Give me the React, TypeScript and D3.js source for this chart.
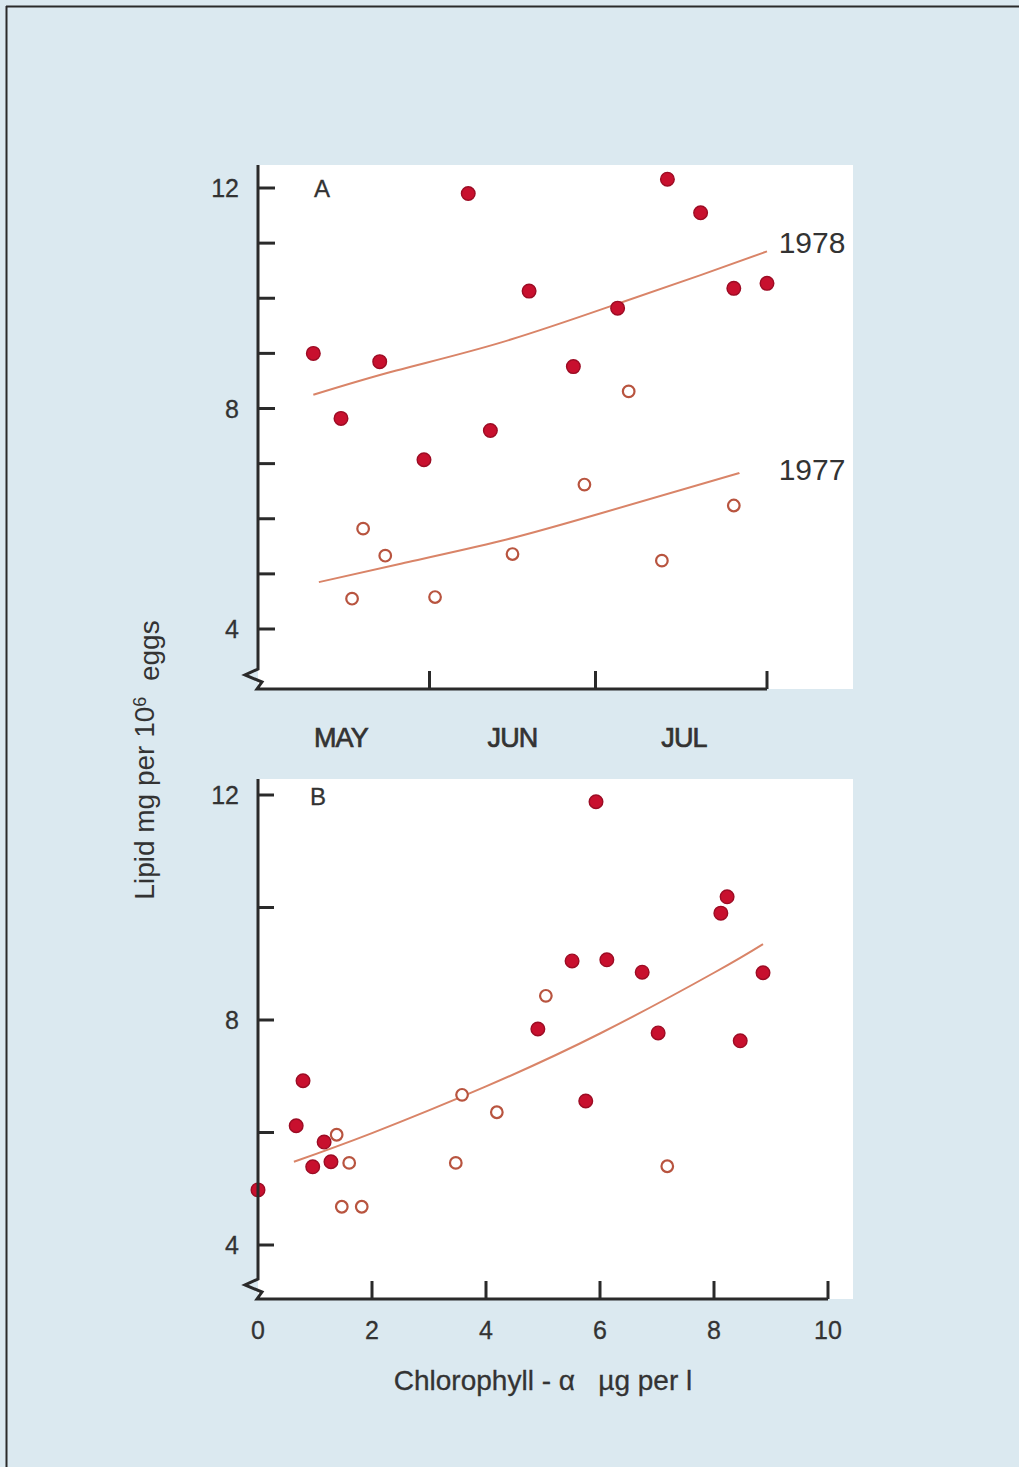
import React from "react";
import * as d3 from "d3";

// ---------- Data ----------
const monthLabels = ["MAY", "JUN", "JUL"];
const monthMidDates = ["05-16", "06-16", "07-17"];
const monthTickDates = ["06-01", "07-01", "08-01"];

// Panel A: lipid vs date
const dates1978 = ["05-11", "05-16", "05-23", "05-31", "06-08", "06-12", "06-19", "06-27", "07-05", "07-14", "07-20", "07-26", "08-01"];
const lipid1978 = [9.0, 7.82, 8.85, 7.07, 11.9, 7.6, 10.13, 8.76, 9.82, 12.16, 11.55, 10.18, 10.27];
const dates1977 = ["05-18", "05-20", "05-24", "06-02", "06-16", "06-29", "07-07", "07-13", "07-26"];
const lipid1977 = [4.55, 5.82, 5.33, 4.58, 5.36, 6.62, 8.31, 5.24, 6.24];

const fitDates1978 = ["05-11", "05-26", "06-14", "07-05", "07-20", "08-01"];
const fitLipid1978 = [8.25, 8.69, 9.2, 9.9, 10.42, 10.85];
const fitDates1977 = ["05-12", "05-27", "06-14", "07-02", "07-27"];
const fitLipid1977 = [4.85, 5.19, 5.6, 6.1, 6.83];

// Panel B: lipid vs chlorophyll
const chlFilled = [0.0, 0.67, 0.79, 0.96, 1.16, 1.28, 4.91, 5.51, 5.75, 5.93, 6.12, 6.74, 7.02, 8.12, 8.23, 8.46, 8.86];
const lipidFilled = [4.98, 6.12, 6.92, 5.39, 5.83, 5.48, 7.84, 9.05, 6.56, 11.88, 9.07, 8.85, 7.77, 9.9, 10.19, 7.63, 8.84];
const chlOpen = [1.38, 1.47, 1.6, 1.82, 3.47, 3.58, 4.19, 5.05, 7.18];
const lipidOpen = [5.96, 4.68, 5.46, 4.68, 5.46, 6.67, 6.36, 8.43, 5.4];
const fitChl = [0.63, 2, 4, 6, 8, 8.86];
const fitLipidB = [5.48, 5.99, 6.82, 7.76, 8.84, 9.35];

const yTicksA = [4, 5, 6, 7, 8, 9, 10, 11, 12];
const yTicksB = [4, 6, 8, 10, 12];
const yLabels = [4, 8, 12];
const xTicksB = [2, 4, 6, 8, 10];
const xLabelsB = [0, 2, 4, 6, 8, 10];

// ---------- Styles ----------
const BG = "#dbe9f0";
const AXIS = "#2a2a2a";
const FILL_RED = "#c8102e";
const FILL_EDGE = "#9c0c24";
const OPEN_EDGE = "#b8543f";
const LINE = "#d98468";
const FONT = "'Liberation Sans', Arial, sans-serif";
const TXT = "#333";

const parse = d3.timeParse("%m-%d");

export default function App() {
  // Panel A scales
  const xA = d3.scaleTime().domain([parse("05-01")!, parse("08-01")!]).range([258, 767]);
  const yA = d3.scaleLinear().domain([4, 12]).range([629, 188]);
  const axA = { x0: 258, y0: 689, top: 165, right: 767 };

  // Panel B scales
  const xB = d3.scaleLinear().domain([0, 10]).range([258, 828]);
  const yB = d3.scaleLinear().domain([4, 12]).range([1245, 795]);
  const axB = { x0: 258, y0: 1299, top: 779, right: 828 };

  const lineA78 = d3
    .line<number>()
    .x((_, i) => xA(parse(fitDates1978[i])!))
    .y((d) => yA(d))
    .curve(d3.curveNatural)(fitLipid1978) as string;
  const lineA77 = d3
    .line<number>()
    .x((_, i) => xA(parse(fitDates1977[i])!))
    .y((d) => yA(d))
    .curve(d3.curveNatural)(fitLipid1977) as string;
  const lineB = d3
    .line<number>()
    .x((_, i) => xB(fitChl[i]))
    .y((d) => yB(d))
    .curve(d3.curveNatural)(fitLipidB) as string;

  const axisPath = (a: { x0: number; y0: number; top: number; right: number }) =>
    `M${a.x0},${a.top} L${a.x0},${a.y0 - 20} L${a.x0 - 13},${a.y0 - 14} L${a.x0 + 4},${a.y0 - 7} L${a.x0 - 1},${a.y0} L${a.right},${a.y0}`;

  const filledDot = (cx: number, cy: number, key: string) => (
    <circle key={key} cx={cx} cy={cy} r={6.8} fill={FILL_RED} stroke={FILL_EDGE} strokeWidth={1.4} />
  );
  const openDot = (cx: number, cy: number, key: string) => (
    <circle key={key} cx={cx} cy={cy} r={5.8} fill="#ffffff" stroke={OPEN_EDGE} strokeWidth={2.2} />
  );

  return (
    <div style={{ position: "absolute", left: 0, top: 0 }}>
      <svg width={1019} height={1467} style={{ display: "block" }}>
        <rect x={0} y={0} width={1019} height={1467} fill={BG} />
        <line x1={6} y1={6.5} x2={1019} y2={6.5} stroke={AXIS} strokeWidth={2} />
        <line x1={6.5} y1={6} x2={6.5} y2={1467} stroke={AXIS} strokeWidth={2} />

        {/* Panel A */}
        <rect x={258} y={165} width={595} height={524} fill="#ffffff" />
        <path d={lineA78} fill="none" stroke={LINE} strokeWidth={2} />
        <path d={lineA77} fill="none" stroke={LINE} strokeWidth={2} />
        {dates1977.map((d, i) => openDot(xA(parse(d)!), yA(lipid1977[i]), "a77" + i))}
        {dates1978.map((d, i) => filledDot(xA(parse(d)!), yA(lipid1978[i]), "a78" + i))}
        <path d={axisPath(axA)} fill="none" stroke={AXIS} strokeWidth={3} strokeLinejoin="miter" />
        {yTicksA.map((t) => (
          <line key={"yta" + t} x1={axA.x0} x2={axA.x0 + 17} y1={yA(t)} y2={yA(t)} stroke={AXIS} strokeWidth={3} />
        ))}
        {yLabels.map((t) => (
          <text key={"yla" + t} x={239} y={yA(t)} dy="0.36em" textAnchor="end" fontFamily={FONT} fontSize={25} fill={TXT} stroke={TXT} strokeWidth={0.3}>
            {t}
          </text>
        ))}
        {monthTickDates.map((d) => (
          <line key={"xta" + d} x1={xA(parse(d)!)} x2={xA(parse(d)!)} y1={axA.y0} y2={axA.y0 - 18} stroke={AXIS} strokeWidth={3} />
        ))}
        {monthLabels.map((m, i) => (
          <text key={"ml" + m} x={xA(parse(monthMidDates[i])!)} y={737} dy="0.36em" textAnchor="middle" fontFamily={FONT} fontSize={27} fill={TXT} stroke={TXT} strokeWidth={0.7} letterSpacing={-0.8}>
            {m}
          </text>
        ))}
        <text x={322} y={188} dy="0.36em" textAnchor="middle" fontFamily={FONT} fontSize={24} fill={TXT} stroke={TXT} strokeWidth={0.3}>
          A
        </text>
        <text x={812} y={242} dy="0.36em" textAnchor="middle" fontFamily={FONT} fontSize={30} fill={TXT}>
          1978
        </text>
        <text x={812} y={469} dy="0.36em" textAnchor="middle" fontFamily={FONT} fontSize={30} fill={TXT}>
          1977
        </text>

        {/* Panel B */}
        <rect x={258} y={779} width={595} height={520} fill="#ffffff" />
        <path d={lineB} fill="none" stroke={LINE} strokeWidth={2} />
        {chlOpen.map((c, i) => openDot(xB(c), yB(lipidOpen[i]), "bo" + i))}
        {chlFilled.map((c, i) => filledDot(xB(c), yB(lipidFilled[i]), "bf" + i))}
        <path d={axisPath(axB)} fill="none" stroke={AXIS} strokeWidth={3} strokeLinejoin="miter" />
        {yTicksB.map((t) => (
          <line key={"ytb" + t} x1={axB.x0} x2={axB.x0 + 16} y1={yB(t)} y2={yB(t)} stroke={AXIS} strokeWidth={3} />
        ))}
        {yLabels.map((t) => (
          <text key={"ylb" + t} x={239} y={yB(t)} dy="0.36em" textAnchor="end" fontFamily={FONT} fontSize={25} fill={TXT} stroke={TXT} strokeWidth={0.3}>
            {t}
          </text>
        ))}
        {xTicksB.map((t) => (
          <line key={"xtb" + t} x1={xB(t)} x2={xB(t)} y1={axB.y0} y2={axB.y0 - 18} stroke={AXIS} strokeWidth={3} />
        ))}
        {xLabelsB.map((t) => (
          <text key={"xlb" + t} x={xB(t)} y={1330} dy="0.36em" textAnchor="middle" fontFamily={FONT} fontSize={25} fill={TXT} stroke={TXT} strokeWidth={0.3}>
            {t}
          </text>
        ))}
        <text x={318} y={796} dy="0.36em" textAnchor="middle" fontFamily={FONT} fontSize={24} fill={TXT} stroke={TXT} strokeWidth={0.3}>
          B
        </text>

        {/* Axis titles */}
        <text x={543} y={1380} dy="0.36em" textAnchor="middle" fontFamily={FONT} fontSize={28} fill={TXT} stroke={TXT} strokeWidth={0.3} xmlSpace="preserve">
          {"Chlorophyll - α   µg per l"}
        </text>
        <text
          transform="translate(144,760) rotate(-90)"
          textAnchor="middle"
          dy="0.36em"
          fontFamily={FONT}
          fontSize={28}
          fill={TXT}
          xmlSpace="preserve"
        >
          {"Lipid mg per 10"}
          <tspan dy="-0.45em" fontSize={18}>6</tspan>
          <tspan dy="0.45em">{"  eggs"}</tspan>
        </text>
      </svg>
    </div>
  );
}
